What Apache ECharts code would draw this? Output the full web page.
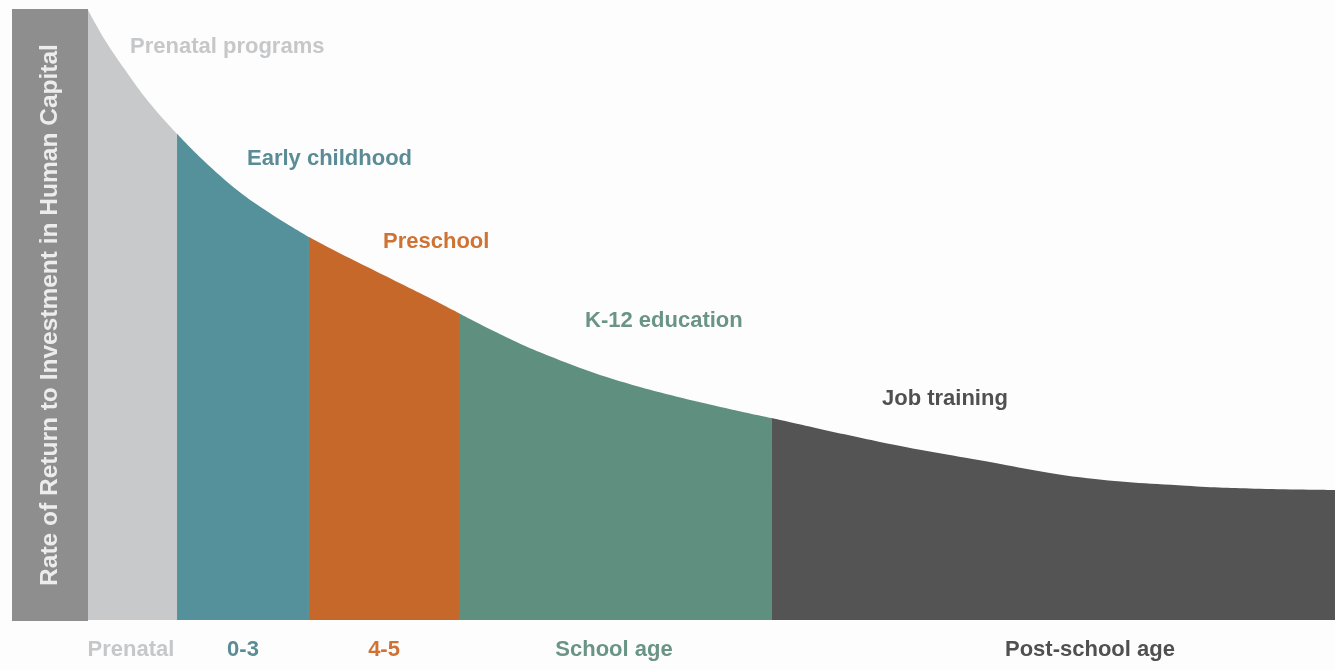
<!DOCTYPE html>
<html>
<head>
<meta charset="utf-8">
<title>Rate of return to investment in human capital</title>
<script src="https://cdn.jsdelivr.net/npm/echarts@6/dist/echarts.min.js"></script>
<style>
	html, body{
		margin: 0;
		padding: 0;
		background: #fdfdfd;
	}
	.main{
		width: 1335px;
		height: 670px;
	}
</style>
</head>
<body>
<div class="main"></div>
<script>
	// stages along the life course (x in 0..100)
	const stages = ['Prenatal', '0-3', '4-5', 'School age', 'Post-school age']
	const stageBounds = [0, 7.14, 17.72, 29.75, 54.85, 100]
	const stageLabelX = [3.45, 12.43, 23.74, 42.18, 80.35]

	// rate of return curve
	const curveX = [0, 1.36, 2.97, 4.57, 6.18, 7.14, 9.22, 11.95, 14.6, 17.72, 19.65, 22.37, 25.02, 27.67, 29.75, 36.25, 44.27, 54.85, 63.51, 71.53, 79.55, 88.05, 94.0, 100]
	const curveY = [100, 95.1, 90.2, 85.7, 81.8, 79.7, 75.4, 70.5, 66.7, 62.8, 60.7, 57.9, 55.2, 52.5, 50.3, 43.9, 38.2, 33.1, 29.2, 26.2, 23.4, 22.0, 21.5, 21.3]

	const programs = ['Prenatal programs', 'Early childhood', 'Preschool', 'K-12 education', 'Job training']
	const programX = [3.37, 12.75, 23.66, 39.86, 63.67]
	const programY = [94.0, 75.6, 62.0, 49.0, 36.2]

	const fillColors = ['#c8c9cb', '#54919b', '#c5682a', '#5f8f7e', '#545454']
	const textColors = ['#c6c7c9', '#5b8c96', '#cf7335', '#6a9486', '#505050']

	let series = []
	for( let i = 0; i < stages.length; i++ ){
		let pts = []
		for( let j = 0; j < curveX.length; j++ ){
			if( curveX[j] >= stageBounds[i] && curveX[j] <= stageBounds[i+1] ){
				pts.push([curveX[j], curveY[j]])
			}
		}
		series.push({
			name: stages[i],
			type: 'line',
			data: pts,
			smooth: 0.4,
			symbol: 'none',
			silent: true,
			lineStyle: { width: 0 },
			areaStyle: { color: fillColors[i], opacity: 1 },
			markPoint: {
				symbol: 'circle',
				symbolSize: 0,
				data: [{ coord: [programX[i], programY[i]], value: programs[i] }],
				label: {
					show: true,
					position: 'right',
					distance: 0,
					formatter: programs[i],
					color: textColors[i],
					fontFamily: 'Liberation Sans',
					fontWeight: 'bold',
					fontSize: 22,
				},
			},
		})
	}

	let rich = {}
	for( let i = 0; i < stages.length; i++ ){
		rich['s' + i] = {
			color: textColors[i],
			fontFamily: 'Liberation Sans',
			fontWeight: 'bold',
			fontSize: 22,
		}
	}

	let option = {
		backgroundColor: '#fdfdfd',
		animation: false,
		grid: {
			left: 88,
			right: 0,
			top: 10,
			bottom: 50,
		},
		xAxis: {
			type: 'value',
			min: 0,
			max: 100,
			axisLine: { show: false },
			axisTick: { show: false },
			splitLine: { show: false },
			axisLabel: {
				customValues: stageLabelX,
				margin: 19,
				formatter: function(val){
					let idx = 0
					for( let i = 1; i < stageLabelX.length; i++ ){
						if( Math.abs(stageLabelX[i] - val) < Math.abs(stageLabelX[idx] - val) ){
							idx = i
						}
					}
					return '{s' + idx + '|' + stages[idx] + '}'
				},
				rich: rich,
			},
		},
		yAxis: {
			type: 'value',
			min: 0,
			max: 100,
			axisLine: { show: false },
			axisTick: { show: false },
			axisLabel: { show: false },
			splitLine: { show: false },
			name: 'Rate of Return to Investment in Human Capital',
			nameLocation: 'middle',
			nameRotate: 90,
			nameGap: 0,
			nameTextStyle: {
				color: '#ececec',
				fontFamily: 'Liberation Sans',
				fontWeight: 'bold',
				fontSize: 24.5,
				backgroundColor: '#8e8e8e',
				height: 76,
				lineHeight: 76,
				padding: [0, 35],
				align: 'center',
				verticalAlign: 'bottom',
			},
		},
		series: series,
	}

	let myChart = echarts.init(document.querySelector('.main'))
	myChart.setOption(option, true)
</script>
</body>
</html>
